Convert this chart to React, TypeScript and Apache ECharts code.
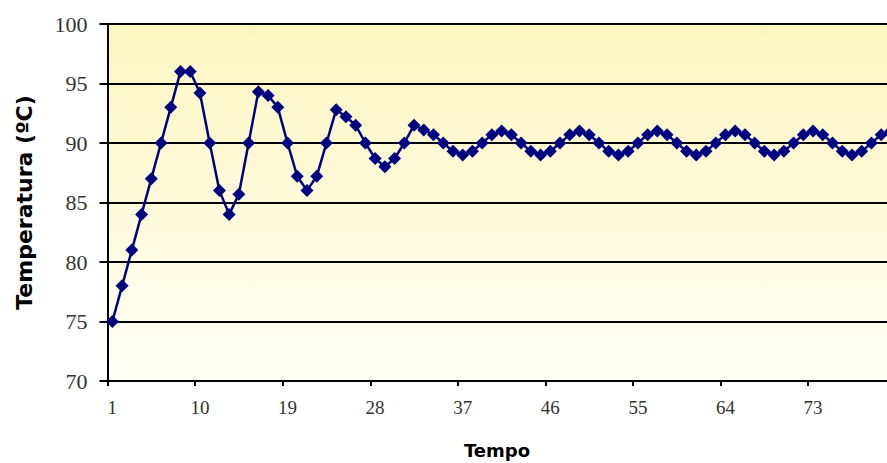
import React, { useEffect, useRef } from "react";
import * as echarts from "echarts";

// Time steps (categories) 1..82 — the plot runs past the right edge of the picture
const categories: string[] = Array.from({ length: 82 }, (_, i) => String(i + 1));

// Temperature readings (ºC)
const temperature: number[] = [
  75, 78, 81, 84, 87, 90, 93, 96, 96, 94.2,
  90, 86, 84, 85.7, 90, 94.3, 94, 93, 90, 87.2,
  86, 87.2, 90, 92.8, 92.2, 91.5, 90, 88.7, 88, 88.7,
  90, 91.5, 91.1, 90.7, 90, 89.3, 89, 89.3, 90, 90.7,
  91, 90.7, 90, 89.3, 89, 89.3, 90, 90.7, 91, 90.7,
  90, 89.3, 89, 89.3, 90, 90.7, 91, 90.7, 90, 89.3,
  89, 89.3, 90, 90.7, 91, 90.7, 90, 89.3, 89, 89.3,
  90, 90.7, 91, 90.7, 90, 89.3, 89, 89.3, 90, 90.7,
  91, 90.7,
];

// Tick labels shown on the visible part of the time axis
const visibleTickLabels: string[] = ["1", "10", "19", "28", "37", "46", "55", "64", "73"];

const yMin = 70;
const yMax = 100;
const yStep = 5;

const yAxisTitle = "Temperatura (ºC)";
const xAxisTitle = "Tempo";

export default function App() {
  const ref = useRef<HTMLDivElement>(null);

  useEffect(() => {
    document.body.style.margin = "0";
    document.body.style.overflow = "hidden";
    if (!ref.current) return;
    const chart = echarts.init(ref.current, undefined, { renderer: "svg" });
    chart.setOption({
      animation: false,
      backgroundColor: "#ffffff",
      grid: {
        left: 107.5,
        top: 24,
        width: 798,
        height: 357,
        containLabel: false,
        outerBoundsMode: "none",
        show: true,
        borderWidth: 0,
        backgroundColor: new echarts.graphic.LinearGradient(0, 0, 0, 1, [
          { offset: 0, color: "#FBF6C0" },
          { offset: 1, color: "#FFFFF5" },
        ]),
      },
      xAxis: {
        type: "category",
        data: categories,
        boundaryGap: true,
        name: xAxisTitle,
        nameLocation: "middle",
        nameGap: 60,
        nameTextStyle: {
          fontFamily: "DejaVu Sans",
          fontWeight: "bold",
          fontSize: 18,
          color: "#000",
          padding: [0, 19, 0, 0],
        },
        axisLine: { show: true, lineStyle: { color: "#000", width: 2 } },
        axisTick: {
          show: true,
          interval: 8,
          length: 5,
          lineStyle: { color: "#000", width: 2 },
        },
        axisLabel: {
          interval: (_index: number, value: string) => visibleTickLabels.includes(value),
          margin: 17,
          fontFamily: "Liberation Serif",
          fontSize: 19,
          color: "#333",
        },
        splitLine: { show: false },
      },
      yAxis: {
        type: "value",
        min: yMin,
        max: yMax,
        interval: yStep,
        name: yAxisTitle,
        nameLocation: "middle",
        nameGap: 72,
        nameRotate: 90,
        nameTextStyle: {
          fontFamily: "DejaVu Sans",
          fontWeight: "bold",
          fontSize: 22,
          color: "#000",
        },
        axisLine: { show: true, lineStyle: { color: "#000", width: 2 } },
        axisTick: { show: true, length: 8, lineStyle: { color: "#000", width: 2 } },
        axisLabel: {
          margin: 20,
          fontFamily: "Liberation Serif",
          fontSize: 22,
          color: "#333",
        },
        splitLine: { show: true, lineStyle: { color: "#000", width: 2 } },
      },
      series: [
        {
          type: "line",
          data: temperature,
          symbol: "diamond",
          symbolSize: 13,
          showSymbol: true,
          showAllSymbol: true,
          itemStyle: { color: "#000080" },
          lineStyle: { color: "#000080", width: 2.5 },
          clip: false,
        },
      ],
    });
    return () => chart.dispose();
  }, []);

  return <div ref={ref} style={{ width: 887, height: 463 }} />;
}
